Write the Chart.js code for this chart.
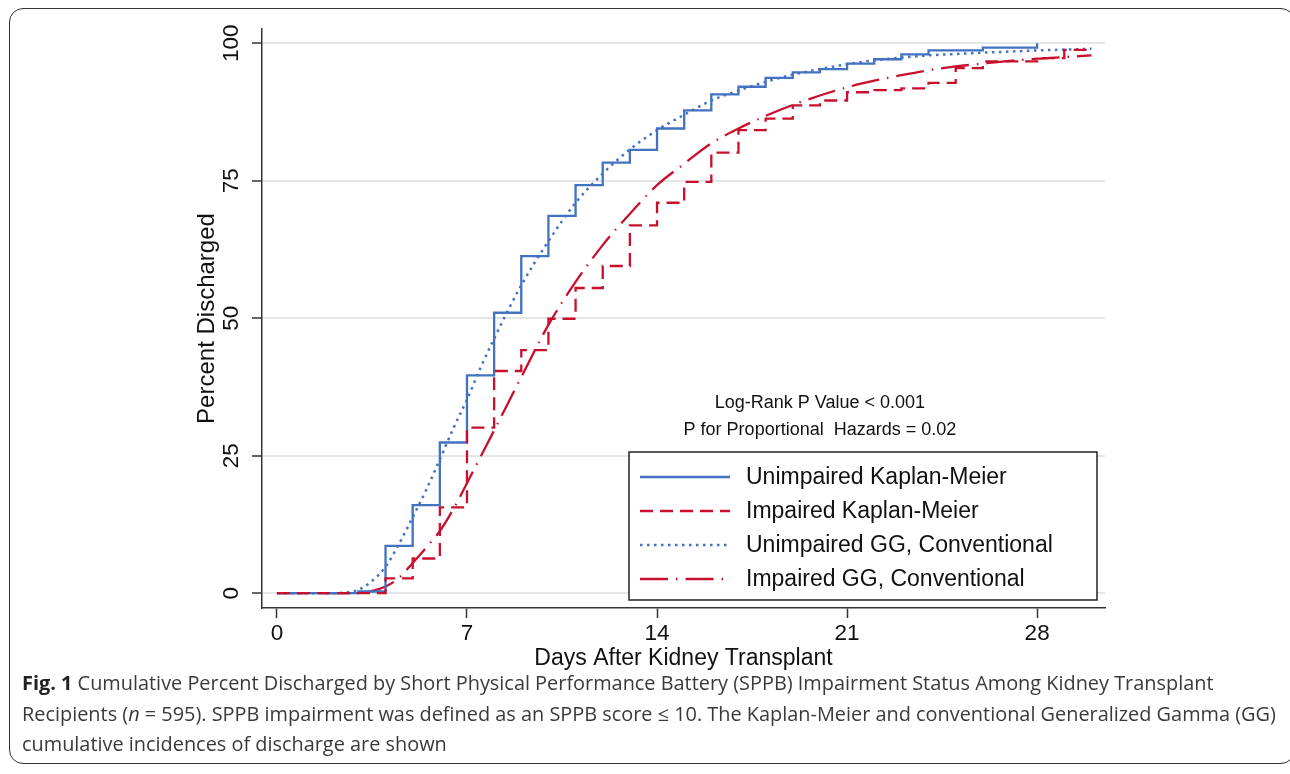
<!DOCTYPE html>
<html lang="en">
<head>
  <meta charset="UTF-8" />
  <title>Cumulative Percent Discharged</title>
  <style>
    html, body {
      margin: 0;
      padding: 0;
      background: #fff;
      width: 1290px;
      height: 774px;
      overflow: hidden;
    }
    #wrap {
      position: relative;
      width: 1290px;
      height: 774px;
    }
    #frame {
      position: absolute;
      left: 9px;
      top: 8px;
      width: 1286px;
      height: 756px;
      border: 1.5px solid #333;
      border-radius: 14px;
      box-sizing: border-box;
    }
    canvas {
      position: absolute;
      left: 0;
      top: 0;
    }
    #caption {
      position: absolute;
      left: 22px;
      top: 668px;
      font-family: "Open Sans", sans-serif;
      font-size: 19.9px;
      line-height: 30.5px;
      color: #3a3a3a;
      white-space: nowrap;
    }
    #caption b { color: #222; }
  </style>
  <script src="https://cdn.jsdelivr.net/npm/chart.js"></script>
</head>
<body>
  <div id="wrap">
    <div id="frame"></div>
    <canvas id="kmChart" width="1290" height="774"></canvas>
    <div id="caption">
      <div><b>Fig. 1</b> Cumulative Percent Discharged by Short Physical Performance Battery (SPPB) Impairment Status Among Kidney Transplant</div>
      <div>Recipients (<i>n</i> = 595). SPPB impairment was defined as an SPPB score ≤ 10. The Kaplan-Meier and conventional Generalized Gamma (GG)</div>
      <div>cumulative incidences of discharge are shown</div>
    </div>
  </div>

  <script>
    // Kaplan-Meier, unimpaired (step at each day)
    const kmDaysUnimp = [0, 3, 4, 5, 6, 7, 8, 9, 10, 11, 12, 13, 14, 15, 16, 17, 18, 19, 20, 21, 22, 23, 24, 26, 28];
    const kmUnimp     = [0, 0.3, 8.6, 16.0, 27.4, 39.6, 51.0, 61.3, 68.6, 74.2, 78.3, 80.6, 84.5, 87.8, 90.7, 92.1, 93.7, 94.7, 95.3, 96.3, 97.1, 98.0, 98.7, 99.2, 100];

    // Kaplan-Meier, impaired
    const kmDaysImp = [0, 4, 5, 6, 7, 8, 9, 10, 11, 12, 13, 14, 15, 16, 17, 18, 19, 20, 21, 22, 23, 24, 25, 26, 28, 29, 30];
    const kmImp     = [0, 2.7, 6.3, 15.6, 30.1, 40.4, 44.2, 49.9, 55.5, 59.5, 66.9, 71.0, 74.8, 80.1, 84.2, 86.3, 88.7, 89.6, 91.1, 91.5, 91.8, 92.8, 95.5, 96.7, 97.3, 98.8, 98.8];

    // generalized gamma fits
    const ggDays   = [0, 1, 2, 2.5, 3, 3.5, 4, 4.5, 5, 5.5, 6, 6.5, 7, 7.5, 8, 9, 10, 11, 12, 13, 14, 15, 16, 17, 18, 19, 20, 21, 22, 23, 24, 25, 26, 27, 28, 29, 30];
    const ggUnimp  = [0, 0, 0, 0.1, 0.6, 2.2, 4.8, 9.0, 13.8, 18.8, 24.3, 30.0, 35.2, 41.0, 46.3, 56.0, 64.0, 71.0, 76.3, 80.7, 84.2, 87.0, 89.6, 91.4, 93.0, 94.3, 95.3, 96.2, 96.9, 97.4, 97.8, 98.05, 98.3, 98.5, 98.7, 98.85, 99.0];
    const ggImp    = [0, 0, 0, 0, 0.1, 0.4, 1.2, 2.8, 5.5, 8.3, 11.3, 15.3, 20.0, 24.8, 29.6, 39.3, 48.8, 56.6, 63.3, 69.0, 74.2, 78.1, 81.8, 84.5, 86.8, 88.8, 90.5, 92.0, 93.2, 94.2, 95.1, 95.8, 96.3, 96.8, 97.2, 97.5, 97.8];

    const xTicks = [0, 7, 14, 21, 28];
    const yTicks = [0, 25, 50, 75, 100];

    const seriesLabels = ['Unimpaired Kaplan-Meier', 'Impaired Kaplan-Meier', 'Unimpaired GG, Conventional', 'Impaired GG, Conventional'];
    const noteLines = ['Log-Rank P Value < 0.001', 'P for Proportional  Hazards = 0.02'];

    const BLUE = '#4272c0';
    const RED = '#c8102e';
    const FONT = '"Liberation Sans", Arial, sans-serif';

    function pts(xs, ys) {
      return xs.map((x, i) => ({ x: x, y: ys[i] }));
    }

    // text notes + legend box inside the plot
    const notesAndLegend = {
      id: 'notesAndLegend',
      afterDatasetsDraw(chart) {
        const ctx = chart.ctx;
        const xs = chart.scales.x, ys = chart.scales.y;
        const area = chart.chartArea;
        ctx.save();

        // notes
        ctx.fillStyle = '#111';
        ctx.font = '18px ' + FONT;
        ctx.textAlign = 'center';
        ctx.textBaseline = 'middle';
        const nx = xs.getPixelForValue(20);
        ctx.fillText(noteLines[0], nx, ys.getPixelForValue(34.5));
        ctx.fillText(noteLines[1], nx, ys.getPixelForValue(29.6));

        // legend
        const w = 468, h = 148;
        const bx = area.right - 8 - w;
        const by = area.bottom - 8 - h;
        ctx.fillStyle = '#fff';
        ctx.fillRect(bx, by, w, h);
        ctx.strokeStyle = '#222';
        ctx.lineWidth = 1.5;
        ctx.strokeRect(bx, by, w, h);

        ctx.font = '23px ' + FONT;
        ctx.textAlign = 'left';
        chart.data.datasets.forEach((ds, i) => {
          const ly = by + 25 + i * 34;
          ctx.beginPath();
          ctx.strokeStyle = ds.borderColor;
          ctx.lineWidth = ds.borderWidth;
          ctx.setLineDash(ds.borderDash || []);
          ctx.moveTo(bx + 11, ly);
          ctx.lineTo(bx + 101, ly);
          ctx.stroke();
          ctx.setLineDash([]);
          ctx.fillStyle = '#111';
          ctx.fillText(ds.label, bx + 117, ly + 1);
        });
        ctx.restore();
      }
    };

    const ctx = document.getElementById('kmChart').getContext('2d');
    const chart = new Chart(ctx, {
      type: 'line',
      data: {
        datasets: [
          {
            label: seriesLabels[0],
            data: pts(kmDaysUnimp, kmUnimp),
            borderColor: BLUE,
            borderWidth: 2.3,
            stepped: 'before',
            order: 2
          },
          {
            label: seriesLabels[1],
            data: pts(kmDaysImp, kmImp),
            borderColor: RED,
            borderWidth: 2.3,
            borderDash: [13, 7],
            stepped: 'before',
            order: 1
          },
          {
            label: seriesLabels[2],
            data: pts(ggDays, ggUnimp),
            borderColor: BLUE,
            borderWidth: 2.5,
            borderDash: [2.5, 4.5],
            cubicInterpolationMode: 'monotone',
            order: 3
          },
          {
            label: seriesLabels[3],
            data: pts(ggDays, ggImp),
            borderColor: RED,
            borderWidth: 2.3,
            borderDash: [28, 8, 1.5, 8],
            cubicInterpolationMode: 'monotone',
            order: 4
          }
        ]
      },
      options: {
        responsive: false,
        animation: false,
        devicePixelRatio: 1,
        elements: { point: { radius: 0 } },
        layout: { padding: { left: 180, top: 29, right: 185, bottom: 94 } },
        plugins: {
          legend: { display: false },
          tooltip: { enabled: false }
        },
        scales: {
          x: {
            type: 'linear',
            min: -0.55,
            max: 30.5,
            afterBuildTicks: (s) => { s.ticks = xTicks.map(v => ({ value: v })); },
            afterFit: (s) => { s.height = 72; },
            grid: { drawOnChartArea: false, tickLength: 10, tickColor: '#333', tickWidth: 1.5 },
            border: { color: '#333', width: 1.5 },
            ticks: { color: '#111', font: { family: FONT, size: 22.5 }, padding: 2, maxRotation: 0 },
            title: {
              display: true,
              text: 'Days After Kidney Transplant',
              color: '#111',
              font: { family: FONT, size: 23 },
              padding: { top: 0, bottom: 8 }
            }
          },
          y: {
            min: -2.7,
            max: 102.6,
            afterBuildTicks: (s) => { s.ticks = yTicks.map(v => ({ value: v })); },
            afterFit: (s) => { s.width = 82; },
            grid: { color: '#e6e6e6', lineWidth: 2, tickLength: 10, tickColor: '#333', tickWidth: 1.5 },
            border: { color: '#333', width: 1.5 },
            ticks: {
              color: '#111',
              font: { family: FONT, size: 22.5 },
              padding: 1,
              minRotation: 90,
              maxRotation: 90,
              crossAlign: 'center'
            },
            title: {
              display: true,
              text: 'Percent Discharged',
              color: '#111',
              font: { family: FONT, size: 24 },
              padding: { top: 12.6, bottom: 0 }
            }
          }
        }
      },
      plugins: [notesAndLegend]
    });
  </script>
</body>
</html>
